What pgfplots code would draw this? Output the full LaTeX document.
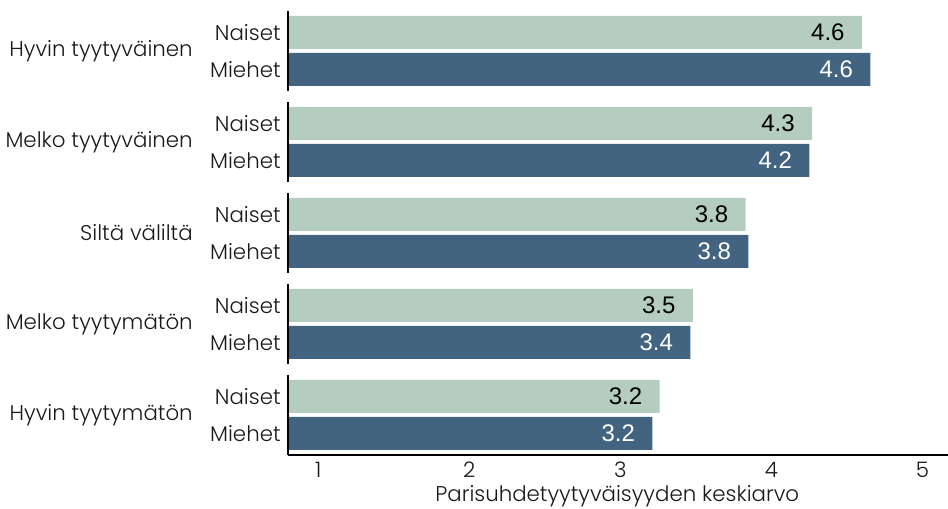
\documentclass[border=0pt]{standalone}
\usepackage{pgfplots}
\pgfplotsset{compat=1.18}
\usepackage{fontspec}
\setmainfont{Poppins}[UprightFont=* Light]
\newfontfamily\valfont{Liberation Sans}
\usetikzlibrary{calc}

\definecolor{naiset}{HTML}{B5CDBF}
\definecolor{miehet}{HTML}{426480}

% y coordinates are in pixels of the reference (negative, top = 0)
\pgfplotstableread{
y      val   lab
-32.5  4.60  4.6
-123.5 4.27  4.3
-214.5 3.83  3.8
-305.5 3.48  3.5
-396.5 3.26  3.2
}\naiset
\pgfplotstableread{
y      val   lab
-69.5  4.656 4.6
-160.5 4.252 4.2
-251.5 3.848 3.8
-342.5 3.464 3.4
-433.5 3.212 3.2
}\miehet

\tikzset{catlab/.style={anchor=east, inner sep=0pt, font=\fontsize{16}{18}\selectfont, text=black!90}}

\begin{document}
\begin{tikzpicture}
\begin{axis}[
    scale only axis,
    width=495pt, height=333pt,
    xmin=0.8, xmax=5.17,
    ymin=-455, ymax=-11,
    xbar, bar shift=0pt, bar width=33,
    axis lines*=left,
    y axis line style={draw=none},
    x axis line style={line width=1.5pt},
    major tick length=0pt,
    xtick={1,2,3,4,5},
    ytick={-32.5,-69.5,-123.5,-160.5,-214.5,-251.5,-305.5,-342.5,-396.5,-433.5},
    yticklabels={Naiset,Miehet,Naiset,Miehet,Naiset,Miehet,Naiset,Miehet,Naiset,Miehet},
    tick label style={font=\fontsize{16}{18}\selectfont, text=black!90},
    /pgf/number format/assume math mode=true,
    yticklabel style={xshift=-2pt},
    xticklabel style={yshift=-2pt},
    clip=false,
    point meta=explicit symbolic,
    nodes near coords,
    nodes near coords style={anchor=east, xshift=-9.5pt, font=\valfont\fontsize{18}{20}\selectfont},
]
\addplot[fill=naiset, draw=none, nodes near coords style={text=black}]
    table[x=val, y=y, meta=lab] {\naiset};
\addplot[fill=miehet, draw=none, nodes near coords style={text=white}]
    table[x=val, y=y, meta=lab] {\miehet};

\draw[line width=1.5pt] (axis cs:0.8,-11) -- (axis cs:0.8,-91);
\draw[line width=1.5pt] (axis cs:0.8,-102) -- (axis cs:0.8,-182);
\draw[line width=1.5pt] (axis cs:0.8,-193) -- (axis cs:0.8,-273);
\draw[line width=1.5pt] (axis cs:0.8,-284) -- (axis cs:0.8,-364);
\draw[line width=1.5pt] (axis cs:0.8,-375) -- (axis cs:0.8,-455);
\coordinate (c1) at (axis cs:0.8,-51);
\coordinate (c2) at (axis cs:0.8,-142);
\coordinate (c3) at (axis cs:0.8,-233);
\coordinate (c4) at (axis cs:0.8,-324);
\coordinate (c5) at (axis cs:0.8,-415);
\coordinate (sw) at (rel axis cs:0,0);
\coordinate (ne) at (rel axis cs:1,1);
\coordinate (xl) at (axis cs:2.98,-455);
\end{axis}
\node[catlab] at ($(c1)+(-71.25pt,0)$) {Hyvin tyytyväinen};
\node[catlab] at ($(c2)+(-71.25pt,0)$) {Melko tyytyväinen};
\node[catlab] at ($(c3)+(-71.25pt,0)$) {Siltä väliltä};
\node[catlab] at ($(c4)+(-71.25pt,0)$) {Melko tyytymätön};
\node[catlab] at ($(c5)+(-71.25pt,0)$) {Hyvin tyytymätön};
\node[anchor=base, inner sep=0pt, font=\fontsize{16}{18}\selectfont, text=black!90]
    at ($(xl)+(0,-35pt)$) {Parisuhdetyytyväisyyden keskiarvo};
\pgfresetboundingbox
\useasboundingbox ($(sw)+(-216pt,-40.5pt)$) rectangle ($(ne)+(0,8.25pt)$);
\end{tikzpicture}
\end{document}
